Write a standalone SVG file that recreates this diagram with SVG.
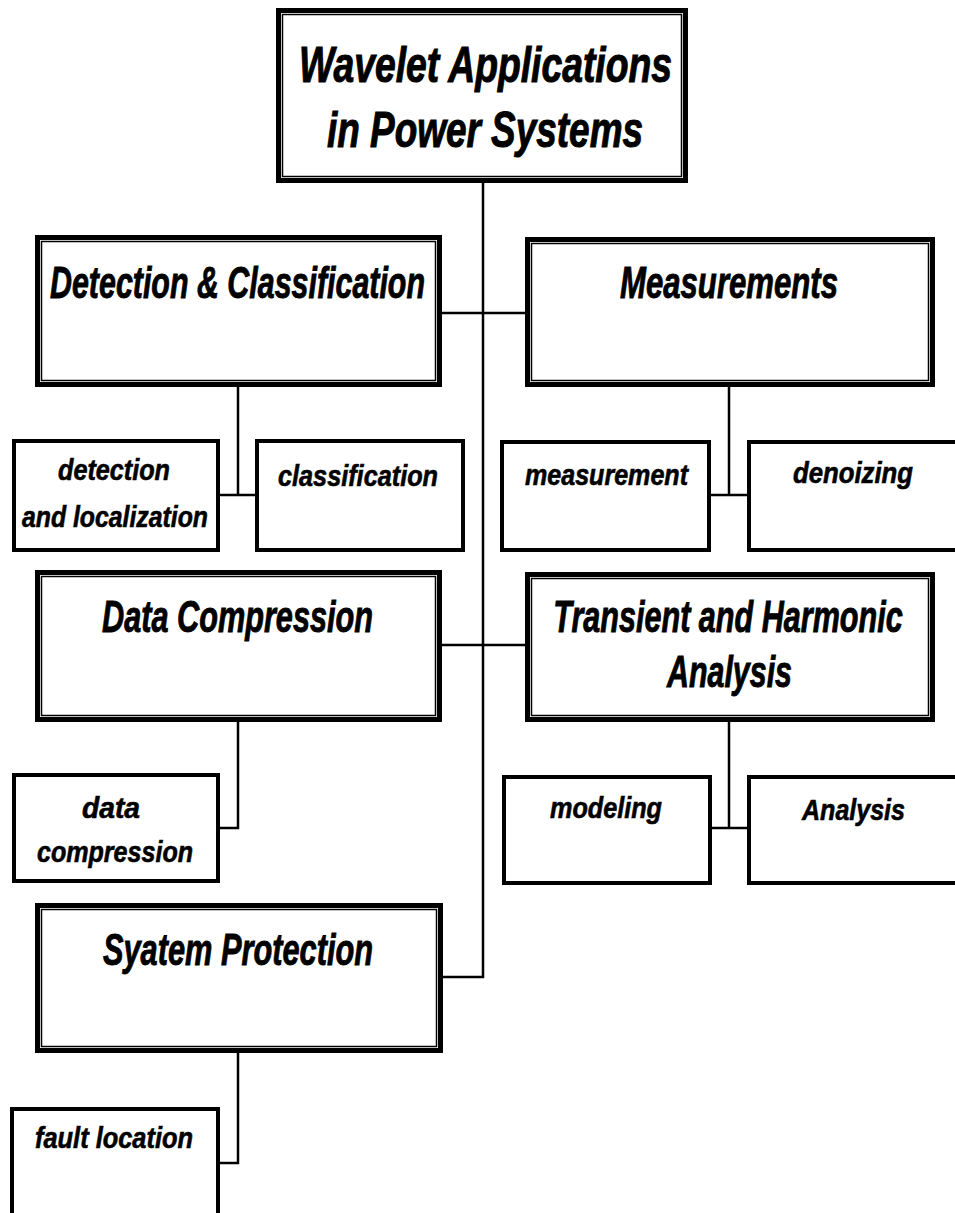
<svg xmlns="http://www.w3.org/2000/svg" width="955" height="1213" viewBox="0 0 955 1213">
<style>
.outer{fill:#fff;stroke:#000;stroke-width:5}
.inner{fill:none;stroke:#000;stroke-width:1.5}
.small{fill:#fff;stroke:#000;stroke-width:4}
.conn{fill:none;stroke:#000;stroke-width:2.5}
text{font-family:"Liberation Sans",Arial,sans-serif;font-weight:bold;font-style:italic;fill:#000;stroke:#000}
.t1{font-size:50px;stroke-width:1}
.t2{font-size:44px;stroke-width:0.9}
.t3{font-size:29px;stroke-width:0.6}
</style>
<rect width="955" height="1213" fill="#fff"/>
<g id="connectors">
<path class="conn" d="M483,183 V977 H443"/>
<path class="conn" d="M442,313 H525"/>
<path class="conn" d="M442,645 H525"/>
<path class="conn" d="M238,387 V495 M220,495 H255"/>
<path class="conn" d="M729,387 V495 M711,495 H747"/>
<path class="conn" d="M238,722 V828 H220"/>
<path class="conn" d="M729,722 V828 M712,828 H747"/>
<path class="conn" d="M238,1053 V1163 H220"/>
</g>
<g id="root">
<rect class="outer" x="278.5" y="10.5" width="407" height="170"/>
<rect class="inner" x="282.5" y="14.5" width="399" height="162"/>
<text class="t1" x="299" y="82" textLength="373" lengthAdjust="spacingAndGlyphs">Wavelet Applications</text>
<text class="t1" x="327" y="147" textLength="316" lengthAdjust="spacingAndGlyphs">in Power Systems</text>
</g>
<g id="detection-classification">
<rect class="outer" x="37.5" y="237.5" width="402" height="147"/>
<rect class="inner" x="41.5" y="241.5" width="394" height="139"/>
<text class="t2" x="50" y="298" textLength="375" lengthAdjust="spacingAndGlyphs">Detection &amp; Classification</text>
</g>
<g id="measurements">
<rect class="outer" x="527.5" y="239.5" width="405" height="145"/>
<rect class="inner" x="531.5" y="243.5" width="397" height="137"/>
<text class="t2" x="620" y="298" textLength="218" lengthAdjust="spacingAndGlyphs">Measurements</text>
</g>
<g id="data-compression">
<rect class="outer" x="37.5" y="572.5" width="402" height="147"/>
<rect class="inner" x="41.5" y="576.5" width="394" height="139"/>
<text class="t2" x="102" y="632" textLength="271" lengthAdjust="spacingAndGlyphs">Data Compression</text>
</g>
<g id="transient-harmonic">
<rect class="outer" x="527.5" y="574.5" width="405" height="145"/>
<rect class="inner" x="531.5" y="578.5" width="397" height="137"/>
<text class="t2" x="0" y="0" text-anchor="middle" transform="translate(728,632) scale(0.695,1)">Transient and Harmonic</text>
<text class="t2" x="667" y="687" textLength="125" lengthAdjust="spacingAndGlyphs">Analysis</text>
</g>
<g id="system-protection">
<rect class="outer" x="37.5" y="905.5" width="403" height="145"/>
<rect class="inner" x="41.5" y="909.5" width="395" height="137"/>
<text class="t2" x="103" y="965" textLength="270" lengthAdjust="spacingAndGlyphs">Syatem Protection</text>
</g>
<g id="detection-localization">
<rect class="small" x="14" y="441" width="204" height="109"/>
<text class="t3" x="58" y="480" textLength="112" lengthAdjust="spacingAndGlyphs">detection</text>
<text class="t3" x="22" y="527" textLength="186" lengthAdjust="spacingAndGlyphs">and localization</text>
</g>
<g id="classification">
<rect class="small" x="257" y="441" width="206" height="109"/>
<text class="t3" x="278" y="486" textLength="160" lengthAdjust="spacingAndGlyphs">classification</text>
</g>
<g id="measurement">
<rect class="small" x="502" y="442" width="207" height="108"/>
<text class="t3" x="525" y="485" textLength="163" lengthAdjust="spacingAndGlyphs">measurement</text>
</g>
<g id="denoizing">
<rect class="small" x="749" y="442" width="220" height="108"/>
<text class="t3" x="793" y="483" textLength="120" lengthAdjust="spacingAndGlyphs">denoizing</text>
</g>
<g id="data-compression-leaf">
<rect class="small" x="14" y="775" width="204" height="106"/>
<text class="t3" x="82" y="818" textLength="58" lengthAdjust="spacingAndGlyphs">data</text>
<text class="t3" x="37" y="862" textLength="156" lengthAdjust="spacingAndGlyphs">compression</text>
</g>
<g id="modeling">
<rect class="small" x="504" y="777" width="206" height="106"/>
<text class="t3" x="550" y="818" textLength="112" lengthAdjust="spacingAndGlyphs">modeling</text>
</g>
<g id="analysis-leaf">
<rect class="small" x="749" y="777" width="220" height="106"/>
<text class="t3" x="802" y="820" textLength="103" lengthAdjust="spacingAndGlyphs">Analysis</text>
</g>
<g id="fault-location">
<rect class="small" x="12" y="1109" width="206" height="130"/>
<text class="t3" x="35" y="1148" textLength="158" lengthAdjust="spacingAndGlyphs">fault location</text>
</g>
</svg>
